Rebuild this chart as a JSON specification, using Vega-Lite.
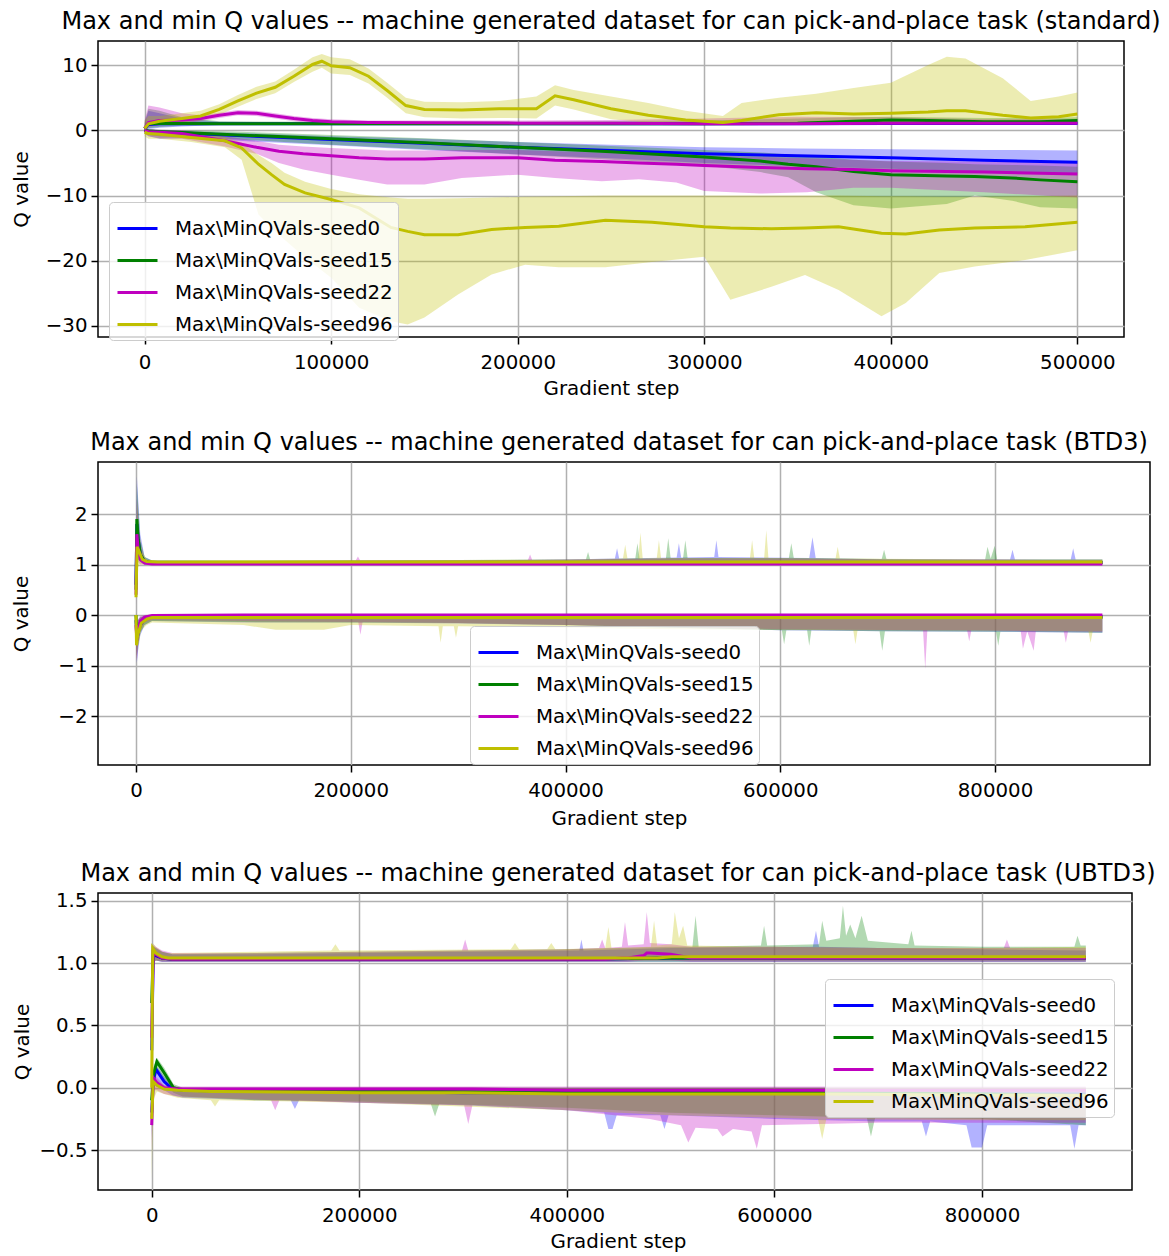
{
"$schema":"https://vega.github.io/schema/vega-lite/v6.json",
"padding":{"left":10,"top":9,"right":5,"bottom":2},
"columns":1,
"spacing":30,
"config":{
 "font":"DejaVu Sans",
 "view":{"stroke":"#000000","strokeWidth":1.5},
 "axis":{"domain":false,"grid":true,"gridColor":"#b0b0b0","gridWidth":1.5,"tickColor":"#000000","tickSize":7,"tickWidth":1.5,"labelFontSize":19.8,"labelColor":"#000000","labelFont":"DejaVu Sans","titleFont":"DejaVu Sans","titleFontSize":19.9,"titleFontWeight":"normal","titleColor":"#000000","labelPadding":4,"titlePadding":8},
 "axisX":{"labelPadding":8,"titlePadding":7},
 "title":{"fontSize":24,"fontWeight":"normal","color":"#000000","font":"DejaVu Sans","anchor":"middle","frame":"group","offset":7},
 "legend":{"labelFontSize":19.8,"labelFont":"DejaVu Sans","labelColor":"#000000","labelLimit":400,"symbolType":"stroke","symbolStrokeWidth":3,"symbolSize":1600,"symbolOffset":2,"fillColor":"rgba(255,255,255,0.8)","strokeColor":"#cccccc","cornerRadius":4,"padding":5,"labelOffset":16,"rowPadding":-4}
},
"datasets":{
"p1":[
{"s":0,"k":"a","x":0,"y":0.3,"l":-0.2,"h":1.0},{"s":0,"k":"a","x":2000,"y":0.9,"l":0.2,"h":3.0},{"s":0,"k":"a","x":8000,"y":1.0,"l":0.4,"h":2.6},{"s":0,"k":"a","x":20000,"y":1.0,"l":0.6,"h":1.8},{"s":0,"k":"a","x":40000,"y":1.0,"l":0.8,"h":1.3},{"s":0,"k":"a","x":100000,"y":1.0,"l":0.85,"h":1.2},{"s":0,"k":"a","x":200000,"y":1.0,"l":0.85,"h":1.2},{"s":0,"k":"a","x":300000,"y":1.0,"l":0.85,"h":1.25},{"s":0,"k":"a","x":400000,"y":1.05,"l":0.85,"h":1.3},{"s":0,"k":"a","x":500000,"y":1.05,"l":0.85,"h":1.3},
{"s":0,"k":"b","x":0,"y":0,"l":-0.5,"h":0.3},{"s":0,"k":"b","x":2000,"y":-0.2,"l":-0.9,"h":0.2},{"s":0,"k":"b","x":8000,"y":-0.3,"l":-1.3,"h":0},{"s":0,"k":"b","x":20000,"y":-0.4,"l":-1.2,"h":-0.1},{"s":0,"k":"b","x":50000,"y":-0.8,"l":-1.6,"h":-0.4},{"s":0,"k":"b","x":100000,"y":-1.4,"l":-2.3,"h":-0.9},{"s":0,"k":"b","x":150000,"y":-2.0,"l":-3.0,"h":-1.3},{"s":0,"k":"b","x":200000,"y":-2.6,"l":-3.7,"h":-1.8},{"s":0,"k":"b","x":250000,"y":-3.1,"l":-4.3,"h":-2.2},{"s":0,"k":"b","x":300000,"y":-3.6,"l":-5.0,"h":-2.6},{"s":0,"k":"b","x":350000,"y":-3.9,"l":-5.5,"h":-2.8},{"s":0,"k":"b","x":400000,"y":-4.2,"l":-5.9,"h":-2.9},{"s":0,"k":"b","x":450000,"y":-4.6,"l":-6.3,"h":-3.0},{"s":0,"k":"b","x":500000,"y":-4.9,"l":-6.6,"h":-3.1},
{"s":15,"k":"a","x":0,"y":0.3,"l":-0.1,"h":1.2},{"s":15,"k":"a","x":2000,"y":1.0,"l":0.3,"h":3.3},{"s":15,"k":"a","x":8000,"y":1.1,"l":0.5,"h":3.0},{"s":15,"k":"a","x":20000,"y":1.05,"l":0.7,"h":2.0},{"s":15,"k":"a","x":40000,"y":1.0,"l":0.8,"h":1.4},{"s":15,"k":"a","x":100000,"y":1.0,"l":0.8,"h":1.3},{"s":15,"k":"a","x":200000,"y":1.0,"l":0.8,"h":1.3},{"s":15,"k":"a","x":300000,"y":1.0,"l":0.8,"h":1.5},{"s":15,"k":"a","x":350000,"y":1.1,"l":0.8,"h":1.8},{"s":15,"k":"a","x":380000,"y":1.4,"l":0.9,"h":2.0},{"s":15,"k":"a","x":400000,"y":1.6,"l":1.0,"h":2.1},{"s":15,"k":"a","x":420000,"y":1.5,"l":1.0,"h":2.0},{"s":15,"k":"a","x":450000,"y":1.3,"l":0.9,"h":1.9},{"s":15,"k":"a","x":480000,"y":1.3,"l":0.9,"h":1.9},{"s":15,"k":"a","x":500000,"y":1.5,"l":1.0,"h":2.0},
{"s":15,"k":"b","x":0,"y":0,"l":-0.4,"h":0.3},{"s":15,"k":"b","x":2000,"y":-0.1,"l":-0.7,"h":0.2},{"s":15,"k":"b","x":8000,"y":-0.2,"l":-0.9,"h":0.1},{"s":15,"k":"b","x":20000,"y":-0.35,"l":-1.0,"h":0},{"s":15,"k":"b","x":50000,"y":-0.7,"l":-1.4,"h":-0.2},{"s":15,"k":"b","x":100000,"y":-1.3,"l":-2.2,"h":-0.7},{"s":15,"k":"b","x":150000,"y":-1.9,"l":-2.9,"h":-1.2},{"s":15,"k":"b","x":200000,"y":-2.6,"l":-3.7,"h":-1.8},{"s":15,"k":"b","x":250000,"y":-3.3,"l":-4.5,"h":-2.4},{"s":15,"k":"b","x":300000,"y":-4.1,"l":-5.4,"h":-3.0},{"s":15,"k":"b","x":330000,"y":-4.7,"l":-6.4,"h":-3.4},{"s":15,"k":"b","x":345000,"y":-5.2,"l":-7.2,"h":-3.7},{"s":15,"k":"b","x":360000,"y":-5.6,"l":-9.5,"h":-4.0},{"s":15,"k":"b","x":380000,"y":-6.3,"l":-11.5,"h":-4.5},{"s":15,"k":"b","x":400000,"y":-6.8,"l":-12.0,"h":-4.8},{"s":15,"k":"b","x":430000,"y":-7.0,"l":-11.3,"h":-5.0},{"s":15,"k":"b","x":445000,"y":-7.1,"l":-10.0,"h":-5.2},{"s":15,"k":"b","x":465000,"y":-7.3,"l":-10.8,"h":-5.3},{"s":15,"k":"b","x":480000,"y":-7.6,"l":-11.8,"h":-5.4},{"s":15,"k":"b","x":500000,"y":-7.9,"l":-12.0,"h":-5.6},
{"s":22,"k":"a","x":0,"y":0.3,"l":-0.1,"h":1.5},{"s":22,"k":"a","x":2000,"y":1.2,"l":0.5,"h":3.8},{"s":22,"k":"a","x":8000,"y":1.5,"l":0.8,"h":3.5},{"s":22,"k":"a","x":20000,"y":1.6,"l":1.1,"h":2.6},{"s":22,"k":"a","x":30000,"y":1.8,"l":1.4,"h":2.3},{"s":22,"k":"a","x":40000,"y":2.3,"l":1.9,"h":2.7},{"s":22,"k":"a","x":50000,"y":2.7,"l":2.3,"h":3.1},{"s":22,"k":"a","x":60000,"y":2.6,"l":2.2,"h":3.0},{"s":22,"k":"a","x":70000,"y":2.2,"l":1.8,"h":2.6},{"s":22,"k":"a","x":80000,"y":1.8,"l":1.4,"h":2.2},{"s":22,"k":"a","x":90000,"y":1.5,"l":1.1,"h":1.9},{"s":22,"k":"a","x":100000,"y":1.3,"l":1.0,"h":1.7},{"s":22,"k":"a","x":120000,"y":1.2,"l":0.95,"h":1.5},{"s":22,"k":"a","x":150000,"y":1.15,"l":0.9,"h":1.5},{"s":22,"k":"a","x":200000,"y":1.1,"l":0.9,"h":1.5},{"s":22,"k":"a","x":250000,"y":1.1,"l":0.9,"h":1.6},{"s":22,"k":"a","x":300000,"y":1.0,"l":0.85,"h":1.8},{"s":22,"k":"a","x":350000,"y":1.0,"l":0.85,"h":2.1},{"s":22,"k":"a","x":400000,"y":1.1,"l":0.85,"h":2.0},{"s":22,"k":"a","x":450000,"y":1.1,"l":0.85,"h":1.7},{"s":22,"k":"a","x":500000,"y":1.1,"l":0.85,"h":1.7},
{"s":22,"k":"b","x":0,"y":0,"l":-0.5,"h":0.3},{"s":22,"k":"b","x":2000,"y":-0.2,"l":-0.9,"h":0.2},{"s":22,"k":"b","x":8000,"y":-0.3,"l":-1.2,"h":0.1},{"s":22,"k":"b","x":20000,"y":-0.5,"l":-1.3,"h":0},{"s":22,"k":"b","x":43000,"y":-1.6,"l":-2.5,"h":-0.9},{"s":22,"k":"b","x":60000,"y":-2.6,"l":-3.6,"h":-1.6},{"s":22,"k":"b","x":72000,"y":-3.2,"l":-5.0,"h":-2.2},{"s":22,"k":"b","x":85000,"y":-3.6,"l":-6.0,"h":-2.5},{"s":22,"k":"b","x":100000,"y":-3.9,"l":-6.8,"h":-2.7},{"s":22,"k":"b","x":115000,"y":-4.2,"l":-7.6,"h":-2.9},{"s":22,"k":"b","x":130000,"y":-4.4,"l":-8.3,"h":-3.1},{"s":22,"k":"b","x":150000,"y":-4.4,"l":-8.3,"h":-3.1},{"s":22,"k":"b","x":170000,"y":-4.2,"l":-7.3,"h":-3.0},{"s":22,"k":"b","x":200000,"y":-4.2,"l":-6.8,"h":-3.0},{"s":22,"k":"b","x":220000,"y":-4.6,"l":-7.3,"h":-3.2},{"s":22,"k":"b","x":245000,"y":-4.8,"l":-7.8,"h":-3.4},{"s":22,"k":"b","x":265000,"y":-5.0,"l":-7.5,"h":-3.6},{"s":22,"k":"b","x":285000,"y":-5.2,"l":-8.0,"h":-3.8},{"s":22,"k":"b","x":300000,"y":-5.4,"l":-9.3,"h":-3.9},{"s":22,"k":"b","x":330000,"y":-5.7,"l":-9.7,"h":-4.1},{"s":22,"k":"b","x":355000,"y":-5.9,"l":-9.5,"h":-4.3},{"s":22,"k":"b","x":380000,"y":-6.0,"l":-8.8,"h":-4.5},{"s":22,"k":"b","x":400000,"y":-6.2,"l":-8.8,"h":-4.7},{"s":22,"k":"b","x":450000,"y":-6.4,"l":-9.5,"h":-4.8},{"s":22,"k":"b","x":500000,"y":-6.7,"l":-10.3,"h":-5.0},
{"s":96,"k":"a","x":0,"y":0.3,"l":-0.2,"h":1.5},{"s":96,"k":"a","x":2000,"y":1.0,"l":0.5,"h":2.2},{"s":96,"k":"a","x":8000,"y":1.4,"l":0.8,"h":2.2},{"s":96,"k":"a","x":20000,"y":1.8,"l":1.2,"h":2.6},{"s":96,"k":"a","x":30000,"y":2.2,"l":1.5,"h":3.0},{"s":96,"k":"a","x":40000,"y":3.2,"l":2.4,"h":4.0},{"s":96,"k":"a","x":50000,"y":4.5,"l":3.6,"h":5.4},{"s":96,"k":"a","x":60000,"y":5.7,"l":4.8,"h":6.7},{"s":96,"k":"a","x":70000,"y":6.6,"l":5.7,"h":7.5},{"s":96,"k":"a","x":80000,"y":8.3,"l":7.4,"h":9.3},{"s":96,"k":"a","x":90000,"y":10.1,"l":9.0,"h":11.2},{"s":96,"k":"a","x":95000,"y":10.6,"l":9.6,"h":11.7},{"s":96,"k":"a","x":100000,"y":9.9,"l":8.7,"h":11.2},{"s":96,"k":"a","x":110000,"y":9.6,"l":8.5,"h":10.9},{"s":96,"k":"a","x":120000,"y":8.3,"l":7.2,"h":9.5},{"s":96,"k":"a","x":130000,"y":6.1,"l":5.0,"h":7.3},{"s":96,"k":"a","x":140000,"y":3.8,"l":2.6,"h":5.0},{"s":96,"k":"a","x":150000,"y":3.2,"l":2.0,"h":4.4},{"s":96,"k":"a","x":170000,"y":3.1,"l":1.8,"h":4.3},{"s":96,"k":"a","x":190000,"y":3.3,"l":1.9,"h":4.5},{"s":96,"k":"a","x":210000,"y":3.3,"l":1.8,"h":5.2},{"s":96,"k":"a","x":220000,"y":5.3,"l":3.8,"h":6.9},{"s":96,"k":"a","x":230000,"y":4.7,"l":3.2,"h":6.2},{"s":96,"k":"a","x":250000,"y":3.3,"l":1.7,"h":5.2},{"s":96,"k":"a","x":270000,"y":2.3,"l":1.2,"h":4.2},{"s":96,"k":"a","x":290000,"y":1.6,"l":1.0,"h":3.0},{"s":96,"k":"a","x":310000,"y":1.2,"l":0.9,"h":2.2},{"s":96,"k":"a","x":320000,"y":1.5,"l":1.0,"h":4.2},{"s":96,"k":"a","x":340000,"y":2.4,"l":1.2,"h":5.0},{"s":96,"k":"a","x":360000,"y":2.7,"l":1.2,"h":5.6},{"s":96,"k":"a","x":380000,"y":2.5,"l":1.2,"h":6.5},{"s":96,"k":"a","x":400000,"y":2.6,"l":1.2,"h":7.3},{"s":96,"k":"a","x":420000,"y":2.8,"l":1.3,"h":10.0},{"s":96,"k":"a","x":430000,"y":3.0,"l":1.3,"h":11.3},{"s":96,"k":"a","x":440000,"y":3.0,"l":1.3,"h":11.0},{"s":96,"k":"a","x":460000,"y":2.3,"l":1.2,"h":8.0},{"s":96,"k":"a","x":475000,"y":1.9,"l":1.1,"h":4.5},{"s":96,"k":"a","x":490000,"y":2.1,"l":1.1,"h":5.2},{"s":96,"k":"a","x":500000,"y":2.5,"l":1.2,"h":5.8},
{"s":96,"k":"b","x":0,"y":-0.3,"l":-0.9,"h":0.2},{"s":96,"k":"b","x":2000,"y":-0.5,"l":-1.3,"h":0},{"s":96,"k":"b","x":8000,"y":-0.6,"l":-1.3,"h":-0.1},{"s":96,"k":"b","x":25000,"y":-1.1,"l":-1.8,"h":-0.5},{"s":96,"k":"b","x":43000,"y":-1.6,"l":-2.6,"h":-1.0},{"s":96,"k":"b","x":52000,"y":-2.7,"l":-4.5,"h":-1.9},{"s":96,"k":"b","x":61000,"y":-5.2,"l":-12.9,"h":-3.8},{"s":96,"k":"b","x":68000,"y":-6.8,"l":-15.0,"h":-5.0},{"s":96,"k":"b","x":75000,"y":-8.3,"l":-16.8,"h":-6.5},{"s":96,"k":"b","x":86000,"y":-9.6,"l":-19.5,"h":-7.9},{"s":96,"k":"b","x":100000,"y":-10.6,"l":-22.6,"h":-9.0},{"s":96,"k":"b","x":115000,"y":-11.9,"l":-27.2,"h":-9.8},{"s":96,"k":"b","x":132000,"y":-14.9,"l":-29.3,"h":-10.3},{"s":96,"k":"b","x":141000,"y":-15.5,"l":-29.8,"h":-10.5},{"s":96,"k":"b","x":150000,"y":-16.0,"l":-28.7,"h":-10.5},{"s":96,"k":"b","x":168000,"y":-16.0,"l":-25.2,"h":-10.4},{"s":96,"k":"b","x":186000,"y":-15.2,"l":-22.1,"h":-10.3},{"s":96,"k":"b","x":204000,"y":-14.9,"l":-20.6,"h":-10.2},{"s":96,"k":"b","x":222000,"y":-14.7,"l":-21.0,"h":-10.1},{"s":96,"k":"b","x":247000,"y":-13.8,"l":-21.0,"h":-10.0},{"s":96,"k":"b","x":272000,"y":-14.1,"l":-20.2,"h":-10.0},{"s":96,"k":"b","x":300000,"y":-14.8,"l":-19.4,"h":-10.0},{"s":96,"k":"b","x":314000,"y":-15.0,"l":-26.0,"h":-10.0},{"s":96,"k":"b","x":336000,"y":-15.1,"l":-24.0,"h":-10.0},{"s":96,"k":"b","x":354000,"y":-15.0,"l":-22.2,"h":-10.0},{"s":96,"k":"b","x":372000,"y":-14.8,"l":-24.5,"h":-10.0},{"s":96,"k":"b","x":395000,"y":-15.8,"l":-28.5,"h":-10.1},{"s":96,"k":"b","x":408000,"y":-15.9,"l":-26.5,"h":-10.1},{"s":96,"k":"b","x":426000,"y":-15.3,"l":-21.9,"h":-10.2},{"s":96,"k":"b","x":445000,"y":-15.0,"l":-20.9,"h":-10.2},{"s":96,"k":"b","x":472000,"y":-14.8,"l":-19.9,"h":-10.1},{"s":96,"k":"b","x":500000,"y":-14.1,"l":-18.4,"h":-10.0}
],
"p2":[
{"s":0,"k":"a","x":0,"y":0.6,"l":0.4,"h":0.9},{"s":0,"k":"a","x":800,"y":1.8,"l":1.2,"h":2.75},{"s":0,"k":"a","x":2000,"y":1.5,"l":1.1,"h":2.3},{"s":0,"k":"a","x":4000,"y":1.2,"l":1.05,"h":1.6},{"s":0,"k":"a","x":8000,"y":1.06,"l":1.0,"h":1.15},{"s":0,"k":"a","x":15000,"y":1.03,"l":1.0,"h":1.08},{"s":0,"k":"a","x":100000,"y":1.03,"l":1.0,"h":1.07},{"s":0,"k":"a","x":200000,"y":1.03,"l":1.0,"h":1.08},{"s":0,"k":"a","x":300000,"y":1.03,"l":1.0,"h":1.08},{"s":0,"k":"a","x":400000,"y":1.03,"l":1.0,"h":1.1},{"s":0,"k":"a","x":446000,"y":1.03,"l":1.0,"h":1.12},{"s":0,"k":"a","x":448000,"y":1.03,"l":1.0,"h":1.32},{"s":0,"k":"a","x":450000,"y":1.03,"l":1.0,"h":1.12},{"s":0,"k":"a","x":503500,"y":1.03,"l":1.0,"h":1.14},{"s":0,"k":"a","x":505600,"y":1.03,"l":1.0,"h":1.42},{"s":0,"k":"a","x":507700,"y":1.03,"l":1.0,"h":1.14},{"s":0,"k":"a","x":538500,"y":1.03,"l":1.0,"h":1.15},{"s":0,"k":"a","x":540500,"y":1.03,"l":1.0,"h":1.48},{"s":0,"k":"a","x":542500,"y":1.03,"l":1.0,"h":1.15},{"s":0,"k":"a","x":627000,"y":1.03,"l":1.0,"h":1.13},{"s":0,"k":"a","x":630000,"y":1.03,"l":1.0,"h":1.54},{"s":0,"k":"a","x":633000,"y":1.03,"l":1.0,"h":1.13},{"s":0,"k":"a","x":700000,"y":1.03,"l":1.0,"h":1.1},{"s":0,"k":"a","x":814000,"y":1.04,"l":1.0,"h":1.1},{"s":0,"k":"a","x":816300,"y":1.04,"l":1.0,"h":1.29},{"s":0,"k":"a","x":818600,"y":1.04,"l":1.0,"h":1.1},{"s":0,"k":"a","x":870500,"y":1.04,"l":1.0,"h":1.1},{"s":0,"k":"a","x":872800,"y":1.04,"l":1.0,"h":1.32},{"s":0,"k":"a","x":875100,"y":1.04,"l":1.0,"h":1.1},{"s":0,"k":"a","x":900000,"y":1.04,"l":1.0,"h":1.1},
{"s":0,"k":"b","x":0,"y":-0.1,"l":-0.5,"h":0.0},{"s":0,"k":"b","x":800,"y":-0.5,"l":-0.95,"h":-0.2},{"s":0,"k":"b","x":2000,"y":-0.35,"l":-0.7,"h":-0.1},{"s":0,"k":"b","x":4000,"y":-0.2,"l":-0.4,"h":-0.05},{"s":0,"k":"b","x":8000,"y":-0.08,"l":-0.2,"h":-0.02},{"s":0,"k":"b","x":15000,"y":-0.04,"l":-0.12,"h":0.0},{"s":0,"k":"b","x":100000,"y":-0.03,"l":-0.15,"h":0.0},{"s":0,"k":"b","x":200000,"y":-0.03,"l":-0.15,"h":0.0},{"s":0,"k":"b","x":300000,"y":-0.03,"l":-0.17,"h":0.0},{"s":0,"k":"b","x":400000,"y":-0.03,"l":-0.2,"h":0.0},{"s":0,"k":"b","x":500000,"y":-0.03,"l":-0.25,"h":0.0},{"s":0,"k":"b","x":600000,"y":-0.03,"l":-0.3,"h":0.0},{"s":0,"k":"b","x":700000,"y":-0.04,"l":-0.32,"h":0.0},{"s":0,"k":"b","x":800000,"y":-0.04,"l":-0.33,"h":0.0},{"s":0,"k":"b","x":900000,"y":-0.04,"l":-0.35,"h":0.0},
{"s":15,"k":"a","x":0,"y":0.5,"l":0.3,"h":0.8},{"s":15,"k":"a","x":800,"y":1.9,"l":1.2,"h":2.6},{"s":15,"k":"a","x":2000,"y":1.5,"l":1.1,"h":2.2},{"s":15,"k":"a","x":4000,"y":1.2,"l":1.05,"h":1.5},{"s":15,"k":"a","x":8000,"y":1.06,"l":1.0,"h":1.15},{"s":15,"k":"a","x":15000,"y":1.03,"l":1.0,"h":1.08},{"s":15,"k":"a","x":100000,"y":1.03,"l":1.0,"h":1.08},{"s":15,"k":"a","x":200000,"y":1.03,"l":1.0,"h":1.08},{"s":15,"k":"a","x":300000,"y":1.03,"l":1.0,"h":1.09},{"s":15,"k":"a","x":400000,"y":1.03,"l":1.0,"h":1.1},{"s":15,"k":"a","x":419000,"y":1.03,"l":1.0,"h":1.1},{"s":15,"k":"a","x":421000,"y":1.03,"l":1.0,"h":1.25},{"s":15,"k":"a","x":423000,"y":1.03,"l":1.0,"h":1.1},{"s":15,"k":"a","x":465000,"y":1.03,"l":1.0,"h":1.12},{"s":15,"k":"a","x":467000,"y":1.03,"l":1.0,"h":1.42},{"s":15,"k":"a","x":469000,"y":1.03,"l":1.0,"h":1.12},{"s":15,"k":"a","x":493500,"y":1.03,"l":1.0,"h":1.12},{"s":15,"k":"a","x":495700,"y":1.03,"l":1.0,"h":1.52},{"s":15,"k":"a","x":497900,"y":1.03,"l":1.0,"h":1.13},{"s":15,"k":"a","x":509500,"y":1.03,"l":1.0,"h":1.13},{"s":15,"k":"a","x":511600,"y":1.03,"l":1.0,"h":1.48},{"s":15,"k":"a","x":513700,"y":1.03,"l":1.0,"h":1.13},{"s":15,"k":"a","x":608000,"y":1.03,"l":1.0,"h":1.13},{"s":15,"k":"a","x":610300,"y":1.03,"l":1.0,"h":1.42},{"s":15,"k":"a","x":612600,"y":1.03,"l":1.0,"h":1.13},{"s":15,"k":"a","x":694500,"y":1.03,"l":1.0,"h":1.11},{"s":15,"k":"a","x":696700,"y":1.03,"l":1.0,"h":1.29},{"s":15,"k":"a","x":698900,"y":1.03,"l":1.0,"h":1.11},{"s":15,"k":"a","x":790800,"y":1.04,"l":1.0,"h":1.1},{"s":15,"k":"a","x":793000,"y":1.04,"l":1.0,"h":1.35},{"s":15,"k":"a","x":796000,"y":1.04,"l":1.0,"h":1.12},{"s":15,"k":"a","x":799700,"y":1.04,"l":1.0,"h":1.37},{"s":15,"k":"a","x":802000,"y":1.04,"l":1.0,"h":1.1},{"s":15,"k":"a","x":900000,"y":1.04,"l":1.0,"h":1.1},
{"s":15,"k":"b","x":0,"y":0.0,"l":-0.3,"h":0.05},{"s":15,"k":"b","x":800,"y":-0.4,"l":-0.8,"h":-0.15},{"s":15,"k":"b","x":2000,"y":-0.3,"l":-0.6,"h":-0.1},{"s":15,"k":"b","x":4000,"y":-0.15,"l":-0.35,"h":-0.04},{"s":15,"k":"b","x":8000,"y":-0.07,"l":-0.2,"h":-0.02},{"s":15,"k":"b","x":15000,"y":-0.04,"l":-0.12,"h":0.0},{"s":15,"k":"b","x":100000,"y":-0.03,"l":-0.14,"h":0.0},{"s":15,"k":"b","x":200000,"y":-0.03,"l":-0.15,"h":0.0},{"s":15,"k":"b","x":300000,"y":-0.03,"l":-0.16,"h":0.0},{"s":15,"k":"b","x":400000,"y":-0.03,"l":-0.2,"h":0.0},{"s":15,"k":"b","x":500000,"y":-0.04,"l":-0.25,"h":0.0},{"s":15,"k":"b","x":601500,"y":-0.04,"l":-0.3,"h":0.0},{"s":15,"k":"b","x":603600,"y":-0.04,"l":-0.58,"h":0.0},{"s":15,"k":"b","x":605700,"y":-0.04,"l":-0.3,"h":0.0},{"s":15,"k":"b","x":625000,"y":-0.04,"l":-0.3,"h":0.0},{"s":15,"k":"b","x":627000,"y":-0.04,"l":-0.61,"h":0.0},{"s":15,"k":"b","x":629000,"y":-0.04,"l":-0.3,"h":0.0},{"s":15,"k":"b","x":692500,"y":-0.04,"l":-0.32,"h":0.0},{"s":15,"k":"b","x":695000,"y":-0.04,"l":-0.71,"h":0.0},{"s":15,"k":"b","x":697500,"y":-0.04,"l":-0.32,"h":0.0},{"s":15,"k":"b","x":801000,"y":-0.04,"l":-0.33,"h":0.0},{"s":15,"k":"b","x":803000,"y":-0.04,"l":-0.61,"h":0.0},{"s":15,"k":"b","x":805000,"y":-0.04,"l":-0.33,"h":0.0},{"s":15,"k":"b","x":900000,"y":-0.04,"l":-0.35,"h":0.0},
{"s":22,"k":"a","x":0,"y":0.4,"l":0.2,"h":0.7},{"s":22,"k":"a","x":800,"y":1.6,"l":1.1,"h":2.3},{"s":22,"k":"a","x":2000,"y":1.3,"l":1.05,"h":1.9},{"s":22,"k":"a","x":4000,"y":1.1,"l":1.0,"h":1.4},{"s":22,"k":"a","x":8000,"y":1.03,"l":1.0,"h":1.1},{"s":22,"k":"a","x":15000,"y":1.01,"l":1.0,"h":1.06},{"s":22,"k":"a","x":100000,"y":1.01,"l":1.0,"h":1.07},{"s":22,"k":"a","x":204600,"y":1.01,"l":1.0,"h":1.08},{"s":22,"k":"a","x":206700,"y":1.01,"l":1.0,"h":1.16},{"s":22,"k":"a","x":208800,"y":1.01,"l":1.0,"h":1.08},{"s":22,"k":"a","x":365000,"y":1.01,"l":1.0,"h":1.09},{"s":22,"k":"a","x":367000,"y":1.01,"l":1.0,"h":1.2},{"s":22,"k":"a","x":369000,"y":1.01,"l":1.0,"h":1.09},{"s":22,"k":"a","x":500000,"y":1.01,"l":1.0,"h":1.12},{"s":22,"k":"a","x":600000,"y":1.01,"l":1.0,"h":1.12},{"s":22,"k":"a","x":700000,"y":1.01,"l":1.0,"h":1.1},{"s":22,"k":"a","x":800000,"y":1.01,"l":1.0,"h":1.1},{"s":22,"k":"a","x":900000,"y":1.01,"l":1.0,"h":1.08},
{"s":22,"k":"b","x":0,"y":-0.2,"l":-0.7,"h":0.0},{"s":22,"k":"b","x":800,"y":-0.5,"l":-0.9,"h":-0.2},{"s":22,"k":"b","x":2000,"y":-0.3,"l":-0.6,"h":-0.08},{"s":22,"k":"b","x":4000,"y":-0.12,"l":-0.3,"h":-0.02},{"s":22,"k":"b","x":8000,"y":-0.04,"l":-0.15,"h":0.0},{"s":22,"k":"b","x":15000,"y":-0.01,"l":-0.1,"h":0.01},{"s":22,"k":"b","x":100000,"y":0.0,"l":-0.12,"h":0.01},{"s":22,"k":"b","x":207000,"y":0.0,"l":-0.14,"h":0.01},{"s":22,"k":"b","x":209000,"y":0.0,"l":-0.39,"h":0.01},{"s":22,"k":"b","x":211000,"y":0.0,"l":-0.14,"h":0.01},{"s":22,"k":"b","x":300000,"y":0.0,"l":-0.16,"h":0.01},{"s":22,"k":"b","x":400000,"y":0.0,"l":-0.2,"h":0.01},{"s":22,"k":"b","x":500000,"y":0.0,"l":-0.24,"h":0.01},{"s":22,"k":"b","x":600000,"y":0.0,"l":-0.28,"h":0.01},{"s":22,"k":"b","x":733000,"y":0.0,"l":-0.3,"h":0.01},{"s":22,"k":"b","x":735000,"y":0.0,"l":-1.07,"h":0.01},{"s":22,"k":"b","x":737000,"y":0.0,"l":-0.3,"h":0.01},{"s":22,"k":"b","x":774000,"y":0.0,"l":-0.3,"h":0.01},{"s":22,"k":"b","x":776000,"y":0.0,"l":-0.52,"h":0.01},{"s":22,"k":"b","x":778000,"y":0.0,"l":-0.3,"h":0.01},{"s":22,"k":"b","x":824000,"y":0.0,"l":-0.32,"h":0.01},{"s":22,"k":"b","x":826000,"y":0.0,"l":-0.67,"h":0.01},{"s":22,"k":"b","x":830000,"y":0.0,"l":-0.32,"h":0.01},{"s":22,"k":"b","x":836000,"y":0.0,"l":-0.71,"h":0.01},{"s":22,"k":"b","x":838000,"y":0.0,"l":-0.32,"h":0.01},{"s":22,"k":"b","x":864000,"y":0.0,"l":-0.32,"h":0.01},{"s":22,"k":"b","x":866000,"y":0.0,"l":-0.55,"h":0.01},{"s":22,"k":"b","x":868000,"y":0.0,"l":-0.32,"h":0.01},{"s":22,"k":"b","x":900000,"y":0.0,"l":-0.33,"h":0.01},
{"s":96,"k":"a","x":0,"y":0.35,"l":0.3,"h":0.6},{"s":96,"k":"a","x":1000,"y":1.35,"l":0.9,"h":2.3},{"s":96,"k":"a","x":3000,"y":1.25,"l":1.0,"h":1.6},{"s":96,"k":"a","x":6000,"y":1.1,"l":1.0,"h":1.25},{"s":96,"k":"a","x":10000,"y":1.06,"l":1.0,"h":1.1},{"s":96,"k":"a","x":20000,"y":1.05,"l":1.0,"h":1.07},{"s":96,"k":"a","x":100000,"y":1.05,"l":1.0,"h":1.08},{"s":96,"k":"a","x":200000,"y":1.05,"l":1.0,"h":1.09},{"s":96,"k":"a","x":300000,"y":1.05,"l":1.0,"h":1.09},{"s":96,"k":"a","x":400000,"y":1.05,"l":1.0,"h":1.1},{"s":96,"k":"a","x":453500,"y":1.05,"l":1.0,"h":1.12},{"s":96,"k":"a","x":455600,"y":1.05,"l":1.0,"h":1.39},{"s":96,"k":"a","x":457700,"y":1.05,"l":1.0,"h":1.12},{"s":96,"k":"a","x":467700,"y":1.05,"l":1.0,"h":1.12},{"s":96,"k":"a","x":469800,"y":1.05,"l":1.0,"h":1.63},{"s":96,"k":"a","x":471900,"y":1.05,"l":1.0,"h":1.12},{"s":96,"k":"a","x":485000,"y":1.05,"l":1.0,"h":1.13},{"s":96,"k":"a","x":487000,"y":1.05,"l":1.0,"h":1.48},{"s":96,"k":"a","x":489000,"y":1.05,"l":1.0,"h":1.13},{"s":96,"k":"a","x":571800,"y":1.05,"l":1.0,"h":1.13},{"s":96,"k":"a","x":573800,"y":1.05,"l":1.0,"h":1.48},{"s":96,"k":"a","x":575800,"y":1.05,"l":1.0,"h":1.13},{"s":96,"k":"a","x":585000,"y":1.05,"l":1.0,"h":1.13},{"s":96,"k":"a","x":587000,"y":1.05,"l":1.0,"h":1.68},{"s":96,"k":"a","x":589000,"y":1.05,"l":1.0,"h":1.13},{"s":96,"k":"a","x":651500,"y":1.05,"l":1.0,"h":1.12},{"s":96,"k":"a","x":653500,"y":1.05,"l":1.0,"h":1.35},{"s":96,"k":"a","x":655500,"y":1.05,"l":1.0,"h":1.12},{"s":96,"k":"a","x":800000,"y":1.05,"l":1.0,"h":1.1},{"s":96,"k":"a","x":900000,"y":1.05,"l":1.0,"h":1.1},
{"s":96,"k":"b","x":0,"y":0.0,"l":-0.3,"h":0.05},{"s":96,"k":"b","x":500,"y":-0.6,"l":-0.9,"h":-0.3},{"s":96,"k":"b","x":1500,"y":-0.4,"l":-0.65,"h":-0.15},{"s":96,"k":"b","x":5000,"y":-0.16,"l":-0.3,"h":-0.05},{"s":96,"k":"b","x":10000,"y":-0.08,"l":-0.2,"h":-0.03},{"s":96,"k":"b","x":15000,"y":-0.05,"l":-0.15,"h":-0.01},{"s":96,"k":"b","x":100000,"y":-0.05,"l":-0.2,"h":0.0},{"s":96,"k":"b","x":130000,"y":-0.05,"l":-0.29,"h":0.0},{"s":96,"k":"b","x":175000,"y":-0.05,"l":-0.29,"h":0.0},{"s":96,"k":"b","x":200000,"y":-0.05,"l":-0.2,"h":0.0},{"s":96,"k":"b","x":281700,"y":-0.05,"l":-0.22,"h":0.0},{"s":96,"k":"b","x":283700,"y":-0.05,"l":-0.55,"h":0.0},{"s":96,"k":"b","x":285700,"y":-0.05,"l":-0.22,"h":0.0},{"s":96,"k":"b","x":296000,"y":-0.05,"l":-0.22,"h":0.0},{"s":96,"k":"b","x":298000,"y":-0.05,"l":-0.45,"h":0.0},{"s":96,"k":"b","x":300000,"y":-0.05,"l":-0.22,"h":0.0},{"s":96,"k":"b","x":400000,"y":-0.05,"l":-0.25,"h":0.0},{"s":96,"k":"b","x":500000,"y":-0.05,"l":-0.28,"h":0.0},{"s":96,"k":"b","x":668000,"y":-0.05,"l":-0.3,"h":0.0},{"s":96,"k":"b","x":670000,"y":-0.05,"l":-0.58,"h":0.0},{"s":96,"k":"b","x":672000,"y":-0.05,"l":-0.3,"h":0.0},{"s":96,"k":"b","x":887000,"y":-0.05,"l":-0.32,"h":0.0},{"s":96,"k":"b","x":889000,"y":-0.05,"l":-0.55,"h":0.0},{"s":96,"k":"b","x":891000,"y":-0.05,"l":-0.32,"h":0.0},{"s":96,"k":"b","x":900000,"y":-0.05,"l":-0.32,"h":0.0}
],
"p3":[
{"s":0,"k":"a","x":0,"y":0.3,"l":0.0,"h":0.6},{"s":0,"k":"a","x":1500,"y":1.08,"l":1.0,"h":1.13},{"s":0,"k":"a","x":4000,"y":1.06,"l":1.02,"h":1.12},{"s":0,"k":"a","x":10000,"y":1.04,"l":1.01,"h":1.09},{"s":0,"k":"a","x":20000,"y":1.03,"l":1.01,"h":1.07},{"s":0,"k":"a","x":100000,"y":1.03,"l":1.01,"h":1.07},{"s":0,"k":"a","x":200000,"y":1.03,"l":1.01,"h":1.08},{"s":0,"k":"a","x":300000,"y":1.03,"l":1.01,"h":1.09},{"s":0,"k":"a","x":412000,"y":1.03,"l":1.01,"h":1.1},{"s":0,"k":"a","x":414000,"y":1.03,"l":1.01,"h":1.19},{"s":0,"k":"a","x":416000,"y":1.03,"l":1.01,"h":1.1},{"s":0,"k":"a","x":500000,"y":1.04,"l":1.01,"h":1.12},{"s":0,"k":"a","x":637000,"y":1.04,"l":1.01,"h":1.13},{"s":0,"k":"a","x":640000,"y":1.04,"l":1.01,"h":1.26},{"s":0,"k":"a","x":643000,"y":1.04,"l":1.01,"h":1.13},{"s":0,"k":"a","x":700000,"y":1.04,"l":1.01,"h":1.12},{"s":0,"k":"a","x":800000,"y":1.04,"l":1.01,"h":1.11},{"s":0,"k":"a","x":900000,"y":1.04,"l":1.01,"h":1.1},
{"s":0,"k":"b","x":0,"y":-0.2,"l":-0.4,"h":0.0},{"s":0,"k":"b","x":1500,"y":0.05,"l":-0.05,"h":0.12},{"s":0,"k":"b","x":4000,"y":0.15,"l":0.05,"h":0.18},{"s":0,"k":"b","x":12000,"y":0.05,"l":-0.02,"h":0.09},{"s":0,"k":"b","x":20000,"y":-0.01,"l":-0.06,"h":0.01},{"s":0,"k":"b","x":30000,"y":-0.02,"l":-0.08,"h":0.0},{"s":0,"k":"b","x":100000,"y":-0.03,"l":-0.1,"h":0.0},{"s":0,"k":"b","x":134000,"y":-0.03,"l":-0.1,"h":0.0},{"s":0,"k":"b","x":138000,"y":-0.03,"l":-0.17,"h":0.0},{"s":0,"k":"b","x":142000,"y":-0.03,"l":-0.1,"h":0.0},{"s":0,"k":"b","x":200000,"y":-0.03,"l":-0.12,"h":0.0},{"s":0,"k":"b","x":300000,"y":-0.04,"l":-0.14,"h":0.0},{"s":0,"k":"b","x":400000,"y":-0.04,"l":-0.18,"h":0.0},{"s":0,"k":"b","x":436000,"y":-0.04,"l":-0.2,"h":0.0},{"s":0,"k":"b","x":440000,"y":-0.04,"l":-0.33,"h":0.0},{"s":0,"k":"b","x":444000,"y":-0.04,"l":-0.33,"h":0.0},{"s":0,"k":"b","x":448000,"y":-0.04,"l":-0.22,"h":0.0},{"s":0,"k":"b","x":490000,"y":-0.04,"l":-0.22,"h":0.0},{"s":0,"k":"b","x":494000,"y":-0.04,"l":-0.33,"h":0.0},{"s":0,"k":"b","x":498000,"y":-0.04,"l":-0.22,"h":0.0},{"s":0,"k":"b","x":600000,"y":-0.04,"l":-0.25,"h":0.0},{"s":0,"k":"b","x":700000,"y":-0.05,"l":-0.27,"h":0.0},{"s":0,"k":"b","x":742000,"y":-0.05,"l":-0.27,"h":0.0},{"s":0,"k":"b","x":746000,"y":-0.05,"l":-0.39,"h":0.0},{"s":0,"k":"b","x":750000,"y":-0.05,"l":-0.27,"h":0.0},{"s":0,"k":"b","x":785000,"y":-0.05,"l":-0.3,"h":0.0},{"s":0,"k":"b","x":790000,"y":-0.05,"l":-0.48,"h":0.0},{"s":0,"k":"b","x":800000,"y":-0.05,"l":-0.48,"h":0.0},{"s":0,"k":"b","x":805000,"y":-0.05,"l":-0.3,"h":0.0},{"s":0,"k":"b","x":885000,"y":-0.05,"l":-0.3,"h":0.0},{"s":0,"k":"b","x":889000,"y":-0.05,"l":-0.49,"h":0.0},{"s":0,"k":"b","x":893000,"y":-0.05,"l":-0.3,"h":0.0},{"s":0,"k":"b","x":900000,"y":-0.05,"l":-0.3,"h":0.0},
{"s":15,"k":"a","x":0,"y":0.68,"l":0.4,"h":0.8},{"s":15,"k":"a","x":1500,"y":1.1,"l":1.0,"h":1.14},{"s":15,"k":"a","x":4000,"y":1.07,"l":1.02,"h":1.12},{"s":15,"k":"a","x":10000,"y":1.04,"l":1.01,"h":1.09},{"s":15,"k":"a","x":20000,"y":1.03,"l":1.01,"h":1.07},{"s":15,"k":"a","x":100000,"y":1.03,"l":1.01,"h":1.08},{"s":15,"k":"a","x":200000,"y":1.03,"l":1.01,"h":1.09},{"s":15,"k":"a","x":300000,"y":1.03,"l":1.01,"h":1.1},{"s":15,"k":"a","x":400000,"y":1.03,"l":1.01,"h":1.11},{"s":15,"k":"a","x":500000,"y":1.04,"l":1.01,"h":1.13},{"s":15,"k":"a","x":521000,"y":1.04,"l":1.01,"h":1.13},{"s":15,"k":"a","x":524000,"y":1.04,"l":1.01,"h":1.38},{"s":15,"k":"a","x":527000,"y":1.04,"l":1.01,"h":1.13},{"s":15,"k":"a","x":587000,"y":1.04,"l":1.01,"h":1.14},{"s":15,"k":"a","x":590000,"y":1.04,"l":1.01,"h":1.3},{"s":15,"k":"a","x":593000,"y":1.04,"l":1.01,"h":1.14},{"s":15,"k":"a","x":643000,"y":1.04,"l":1.01,"h":1.15},{"s":15,"k":"a","x":646000,"y":1.04,"l":1.01,"h":1.34},{"s":15,"k":"a","x":650000,"y":1.04,"l":1.01,"h":1.18},{"s":15,"k":"a","x":663000,"y":1.04,"l":1.01,"h":1.2},{"s":15,"k":"a","x":666000,"y":1.04,"l":1.01,"h":1.46},{"s":15,"k":"a","x":669000,"y":1.04,"l":1.01,"h":1.22},{"s":15,"k":"a","x":673000,"y":1.04,"l":1.01,"h":1.31},{"s":15,"k":"a","x":678000,"y":1.04,"l":1.01,"h":1.2},{"s":15,"k":"a","x":684000,"y":1.04,"l":1.01,"h":1.38},{"s":15,"k":"a","x":690000,"y":1.04,"l":1.01,"h":1.18},{"s":15,"k":"a","x":729000,"y":1.04,"l":1.01,"h":1.15},{"s":15,"k":"a","x":732000,"y":1.04,"l":1.01,"h":1.26},{"s":15,"k":"a","x":735000,"y":1.04,"l":1.01,"h":1.14},{"s":15,"k":"a","x":800000,"y":1.04,"l":1.01,"h":1.13},{"s":15,"k":"a","x":889000,"y":1.04,"l":1.01,"h":1.13},{"s":15,"k":"a","x":892000,"y":1.04,"l":1.01,"h":1.22},{"s":15,"k":"a","x":895000,"y":1.04,"l":1.01,"h":1.14},{"s":15,"k":"a","x":900000,"y":1.04,"l":1.01,"h":1.14},
{"s":15,"k":"b","x":0,"y":-0.1,"l":-0.3,"h":0.0},{"s":15,"k":"b","x":1500,"y":0.1,"l":0.0,"h":0.16},{"s":15,"k":"b","x":5000,"y":0.21,"l":0.12,"h":0.24},{"s":15,"k":"b","x":12000,"y":0.12,"l":0.05,"h":0.16},{"s":15,"k":"b","x":21000,"y":0.0,"l":-0.04,"h":0.03},{"s":15,"k":"b","x":30000,"y":-0.02,"l":-0.07,"h":0.0},{"s":15,"k":"b","x":100000,"y":-0.03,"l":-0.1,"h":0.0},{"s":15,"k":"b","x":200000,"y":-0.03,"l":-0.11,"h":0.0},{"s":15,"k":"b","x":269000,"y":-0.03,"l":-0.13,"h":0.0},{"s":15,"k":"b","x":273000,"y":-0.03,"l":-0.23,"h":0.0},{"s":15,"k":"b","x":277000,"y":-0.03,"l":-0.13,"h":0.0},{"s":15,"k":"b","x":400000,"y":-0.04,"l":-0.16,"h":0.0},{"s":15,"k":"b","x":500000,"y":-0.04,"l":-0.2,"h":0.0},{"s":15,"k":"b","x":600000,"y":-0.04,"l":-0.22,"h":0.0},{"s":15,"k":"b","x":689000,"y":-0.04,"l":-0.24,"h":0.0},{"s":15,"k":"b","x":693000,"y":-0.04,"l":-0.39,"h":0.0},{"s":15,"k":"b","x":697000,"y":-0.04,"l":-0.24,"h":0.0},{"s":15,"k":"b","x":800000,"y":-0.05,"l":-0.25,"h":0.0},{"s":15,"k":"b","x":900000,"y":-0.06,"l":-0.3,"h":0.0},
{"s":22,"k":"a","x":0,"y":0.4,"l":0.1,"h":0.7},{"s":22,"k":"a","x":1500,"y":1.1,"l":1.0,"h":1.15},{"s":22,"k":"a","x":4000,"y":1.07,"l":1.02,"h":1.13},{"s":22,"k":"a","x":10000,"y":1.04,"l":1.01,"h":1.1},{"s":22,"k":"a","x":20000,"y":1.03,"l":1.01,"h":1.08},{"s":22,"k":"a","x":100000,"y":1.03,"l":1.01,"h":1.08},{"s":22,"k":"a","x":200000,"y":1.03,"l":1.01,"h":1.09},{"s":22,"k":"a","x":299000,"y":1.03,"l":1.01,"h":1.1},{"s":22,"k":"a","x":302000,"y":1.03,"l":1.01,"h":1.19},{"s":22,"k":"a","x":305000,"y":1.03,"l":1.01,"h":1.1},{"s":22,"k":"a","x":400000,"y":1.03,"l":1.01,"h":1.11},{"s":22,"k":"a","x":431000,"y":1.03,"l":1.01,"h":1.12},{"s":22,"k":"a","x":434000,"y":1.03,"l":1.01,"h":1.19},{"s":22,"k":"a","x":437000,"y":1.03,"l":1.01,"h":1.12},{"s":22,"k":"a","x":453000,"y":1.04,"l":1.01,"h":1.13},{"s":22,"k":"a","x":456000,"y":1.04,"l":1.01,"h":1.33},{"s":22,"k":"a","x":459000,"y":1.04,"l":1.01,"h":1.14},{"s":22,"k":"a","x":474000,"y":1.06,"l":1.02,"h":1.15},{"s":22,"k":"a","x":477000,"y":1.08,"l":1.02,"h":1.41},{"s":22,"k":"a","x":480000,"y":1.08,"l":1.02,"h":1.16},{"s":22,"k":"a","x":500000,"y":1.07,"l":1.02,"h":1.15},{"s":22,"k":"a","x":520000,"y":1.04,"l":1.01,"h":1.13},{"s":22,"k":"a","x":600000,"y":1.04,"l":1.01,"h":1.13},{"s":22,"k":"a","x":700000,"y":1.04,"l":1.01,"h":1.12},{"s":22,"k":"a","x":821000,"y":1.04,"l":1.01,"h":1.12},{"s":22,"k":"a","x":824000,"y":1.04,"l":1.01,"h":1.19},{"s":22,"k":"a","x":827000,"y":1.04,"l":1.01,"h":1.12},{"s":22,"k":"a","x":900000,"y":1.04,"l":1.01,"h":1.12},
{"s":22,"k":"b","x":0,"y":-0.3,"l":-0.5,"h":-0.1},{"s":22,"k":"b","x":1500,"y":0.08,"l":-0.02,"h":0.12},{"s":22,"k":"b","x":5000,"y":0.04,"l":-0.02,"h":0.08},{"s":22,"k":"b","x":12000,"y":0.0,"l":-0.05,"h":0.02},{"s":22,"k":"b","x":25000,"y":-0.01,"l":-0.07,"h":0.01},{"s":22,"k":"b","x":115000,"y":-0.01,"l":-0.1,"h":0.01},{"s":22,"k":"b","x":119000,"y":-0.01,"l":-0.18,"h":0.01},{"s":22,"k":"b","x":123000,"y":-0.01,"l":-0.1,"h":0.01},{"s":22,"k":"b","x":200000,"y":-0.01,"l":-0.12,"h":0.01},{"s":22,"k":"b","x":301000,"y":-0.01,"l":-0.14,"h":0.01},{"s":22,"k":"b","x":305000,"y":-0.01,"l":-0.29,"h":0.01},{"s":22,"k":"b","x":309000,"y":-0.01,"l":-0.14,"h":0.01},{"s":22,"k":"b","x":400000,"y":-0.02,"l":-0.18,"h":0.01},{"s":22,"k":"b","x":480000,"y":-0.02,"l":-0.25,"h":0.01},{"s":22,"k":"b","x":510000,"y":-0.02,"l":-0.3,"h":0.01},{"s":22,"k":"b","x":517000,"y":-0.02,"l":-0.44,"h":0.01},{"s":22,"k":"b","x":524000,"y":-0.02,"l":-0.32,"h":0.01},{"s":22,"k":"b","x":545000,"y":-0.02,"l":-0.33,"h":0.01},{"s":22,"k":"b","x":550000,"y":-0.02,"l":-0.39,"h":0.01},{"s":22,"k":"b","x":560000,"y":-0.02,"l":-0.33,"h":0.01},{"s":22,"k":"b","x":578000,"y":-0.02,"l":-0.35,"h":0.01},{"s":22,"k":"b","x":583000,"y":-0.02,"l":-0.49,"h":0.01},{"s":22,"k":"b","x":588000,"y":-0.02,"l":-0.3,"h":0.01},{"s":22,"k":"b","x":700000,"y":-0.02,"l":-0.28,"h":0.01},{"s":22,"k":"b","x":800000,"y":-0.02,"l":-0.28,"h":0.01},{"s":22,"k":"b","x":900000,"y":-0.02,"l":-0.28,"h":0.01},
{"s":96,"k":"a","x":0,"y":0.0,"l":-0.25,"h":0.3},{"s":96,"k":"a","x":1000,"y":1.12,"l":1.0,"h":1.16},{"s":96,"k":"a","x":4000,"y":1.08,"l":1.02,"h":1.13},{"s":96,"k":"a","x":10000,"y":1.05,"l":1.02,"h":1.09},{"s":96,"k":"a","x":16000,"y":1.04,"l":1.02,"h":1.08},{"s":96,"k":"a","x":100000,"y":1.04,"l":1.02,"h":1.09},{"s":96,"k":"a","x":173000,"y":1.04,"l":1.02,"h":1.1},{"s":96,"k":"a","x":177000,"y":1.04,"l":1.02,"h":1.15},{"s":96,"k":"a","x":181000,"y":1.04,"l":1.02,"h":1.1},{"s":96,"k":"a","x":346000,"y":1.04,"l":1.02,"h":1.11},{"s":96,"k":"a","x":350000,"y":1.04,"l":1.02,"h":1.16},{"s":96,"k":"a","x":354000,"y":1.04,"l":1.02,"h":1.11},{"s":96,"k":"a","x":381000,"y":1.04,"l":1.02,"h":1.11},{"s":96,"k":"a","x":385000,"y":1.04,"l":1.02,"h":1.16},{"s":96,"k":"a","x":389000,"y":1.04,"l":1.02,"h":1.11},{"s":96,"k":"a","x":437000,"y":1.04,"l":1.02,"h":1.12},{"s":96,"k":"a","x":440000,"y":1.04,"l":1.02,"h":1.29},{"s":96,"k":"a","x":443000,"y":1.04,"l":1.02,"h":1.12},{"s":96,"k":"a","x":481000,"y":1.04,"l":1.02,"h":1.13},{"s":96,"k":"a","x":484000,"y":1.04,"l":1.02,"h":1.34},{"s":96,"k":"a","x":487000,"y":1.04,"l":1.02,"h":1.14},{"s":96,"k":"a","x":501000,"y":1.05,"l":1.02,"h":1.15},{"s":96,"k":"a","x":504000,"y":1.05,"l":1.02,"h":1.41},{"s":96,"k":"a","x":508000,"y":1.05,"l":1.02,"h":1.2},{"s":96,"k":"a","x":512000,"y":1.05,"l":1.02,"h":1.3},{"s":96,"k":"a","x":516000,"y":1.05,"l":1.02,"h":1.14},{"s":96,"k":"a","x":600000,"y":1.05,"l":1.02,"h":1.13},{"s":96,"k":"a","x":700000,"y":1.05,"l":1.02,"h":1.12},{"s":96,"k":"a","x":800000,"y":1.05,"l":1.02,"h":1.12},{"s":96,"k":"a","x":900000,"y":1.05,"l":1.02,"h":1.13},
{"s":96,"k":"b","x":0,"y":-0.25,"l":-0.74,"h":-0.1},{"s":96,"k":"b","x":1500,"y":0.05,"l":-0.1,"h":0.08},{"s":96,"k":"b","x":5000,"y":0.02,"l":-0.03,"h":0.06},{"s":96,"k":"b","x":12000,"y":-0.01,"l":-0.05,"h":0.02},{"s":96,"k":"b","x":25000,"y":-0.02,"l":-0.08,"h":0.0},{"s":96,"k":"b","x":57000,"y":-0.03,"l":-0.1,"h":0.0},{"s":96,"k":"b","x":61000,"y":-0.03,"l":-0.15,"h":0.0},{"s":96,"k":"b","x":65000,"y":-0.03,"l":-0.1,"h":0.0},{"s":96,"k":"b","x":200000,"y":-0.04,"l":-0.12,"h":0.0},{"s":96,"k":"b","x":300000,"y":-0.04,"l":-0.15,"h":0.0},{"s":96,"k":"b","x":400000,"y":-0.05,"l":-0.18,"h":0.0},{"s":96,"k":"b","x":500000,"y":-0.05,"l":-0.22,"h":0.0},{"s":96,"k":"b","x":600000,"y":-0.05,"l":-0.24,"h":0.0},{"s":96,"k":"b","x":642000,"y":-0.05,"l":-0.25,"h":0.0},{"s":96,"k":"b","x":646000,"y":-0.05,"l":-0.41,"h":0.0},{"s":96,"k":"b","x":650000,"y":-0.05,"l":-0.25,"h":0.0},{"s":96,"k":"b","x":800000,"y":-0.06,"l":-0.26,"h":0.0},{"s":96,"k":"b","x":900000,"y":-0.06,"l":-0.26,"h":0.0}
]
},
"concat":[
{
 "width":1026,"height":296,
 "title":{"text":"Max and min Q values -- machine generated dataset for can pick-and-place task (standard)"},
 "data":{"name":"p1"},
 "encoding":{"x":{"field":"x","type":"quantitative","scale":{"domain":[-25000,525000],"nice":false,"zero":false},"axis":{"values":[0,100000,200000,300000,400000,500000],"format":"d","title":"Gradient step"}}},
 "resolve":{"legend":{"color":"independent"}},
 "layer":[
  {"mark":{"type":"area","opacity":0.3,"clip":true},"encoding":{"y":{"field":"l","type":"quantitative","stack":null,"scale":{"domain":[-31.7,13.7],"nice":false,"zero":false},"axis":{"values":[-30,-20,-10,0,10],"format":"d","title":"Q value","titlePadding":14}},"y2":{"field":"h"},"color":{"field":"s","type":"nominal","scale":{"domain":[0,15,22,96],"range":["#0000ff","#008000","#bf00bf","#bfbf00"]},"legend":null},"detail":{"field":"k"}}},
  {"mark":{"type":"line","strokeWidth":3,"clip":true},"encoding":{"y":{"field":"y","type":"quantitative","axis":{"values":[-30,-20,-10,0,10],"format":"d","title":"Q value","titlePadding":14}},"color":{"field":"s","type":"nominal","scale":{"domain":[0,15,22,96],"range":["#0000ff","#008000","#bf00bf","#bfbf00"]},"legend":{"orient":"none","legendX":11,"legendY":161,"title":null,"labelExpr":"'Max\\\\MinQVals-seed' + datum.label"}},"detail":{"field":"k"}}}
 ]
},
{
 "width":1052,"height":303,
 "title":{"text":"Max and min Q values -- machine generated dataset for can pick-and-place task (BTD3)","dx":-5},
 "data":{"name":"p2"},
 "encoding":{"x":{"field":"x","type":"quantitative","scale":{"domain":[-35390,944350],"nice":false,"zero":false},"axis":{"values":[0,200000,400000,600000,800000],"format":"d","title":"Gradient step","titleX":521,"titlePadding":9}}},
 "resolve":{"legend":{"color":"independent"}},
 "layer":[
  {"mark":{"type":"area","opacity":0.3,"clip":true},"encoding":{"y":{"field":"l","type":"quantitative","stack":null,"scale":{"domain":[-2.97,3.03],"nice":false,"zero":false},"axis":{"values":[-2,-1,0,1,2],"format":"d","title":"Q value","titlePadding":26}},"y2":{"field":"h"},"color":{"field":"s","type":"nominal","scale":{"domain":[0,15,22,96],"range":["#0000ff","#008000","#bf00bf","#bfbf00"]},"legend":null},"detail":{"field":"k"}}},
  {"mark":{"type":"line","strokeWidth":3,"clip":true},"encoding":{"y":{"field":"y","type":"quantitative","axis":{"values":[-2,-1,0,1,2],"format":"d","title":"Q value","titlePadding":26}},"color":{"field":"s","type":"nominal","scale":{"domain":[0,15,22,96],"range":["#0000ff","#008000","#bf00bf","#bfbf00"]},"legend":{"orient":"none","legendX":372,"legendY":164,"title":null,"labelExpr":"'Max\\\\MinQVals-seed' + datum.label"}},"detail":{"field":"k"}}}
 ]
},
{
 "width":1034,"height":297,
 "title":{"text":"Max and min Q values -- machine generated dataset for can pick-and-place task (UBTD3)","dx":3,"offset":5},
 "data":{"name":"p3"},
 "encoding":{"x":{"field":"x","type":"quantitative","scale":{"domain":[-51740,944500],"nice":false,"zero":false},"axis":{"values":[0,200000,400000,600000,800000],"format":"d","title":"Gradient step","titleX":520}}},
 "resolve":{"legend":{"color":"independent"}},
 "layer":[
  {"mark":{"type":"area","opacity":0.3,"clip":true},"encoding":{"y":{"field":"l","type":"quantitative","stack":null,"scale":{"domain":[-0.82,1.562],"nice":false,"zero":false},"axis":{"values":[-0.5,0,0.5,1,1.5],"format":".1f","title":"Q value","titlePadding":6}},"y2":{"field":"h"},"color":{"field":"s","type":"nominal","scale":{"domain":[0,15,22,96],"range":["#0000ff","#008000","#bf00bf","#bfbf00"]},"legend":null},"detail":{"field":"k"}}},
  {"mark":{"type":"line","strokeWidth":3,"clip":true},"encoding":{"y":{"field":"y","type":"quantitative","axis":{"values":[-0.5,0,0.5,1,1.5],"format":".1f","title":"Q value","titlePadding":6}},"color":{"field":"s","type":"nominal","scale":{"domain":[0,15,22,96],"range":["#0000ff","#008000","#bf00bf","#bfbf00"]},"legend":{"orient":"none","legendX":727,"legendY":86,"title":null,"labelExpr":"'Max\\\\MinQVals-seed' + datum.label"}},"detail":{"field":"k"}}}
 ]
}
]
}
